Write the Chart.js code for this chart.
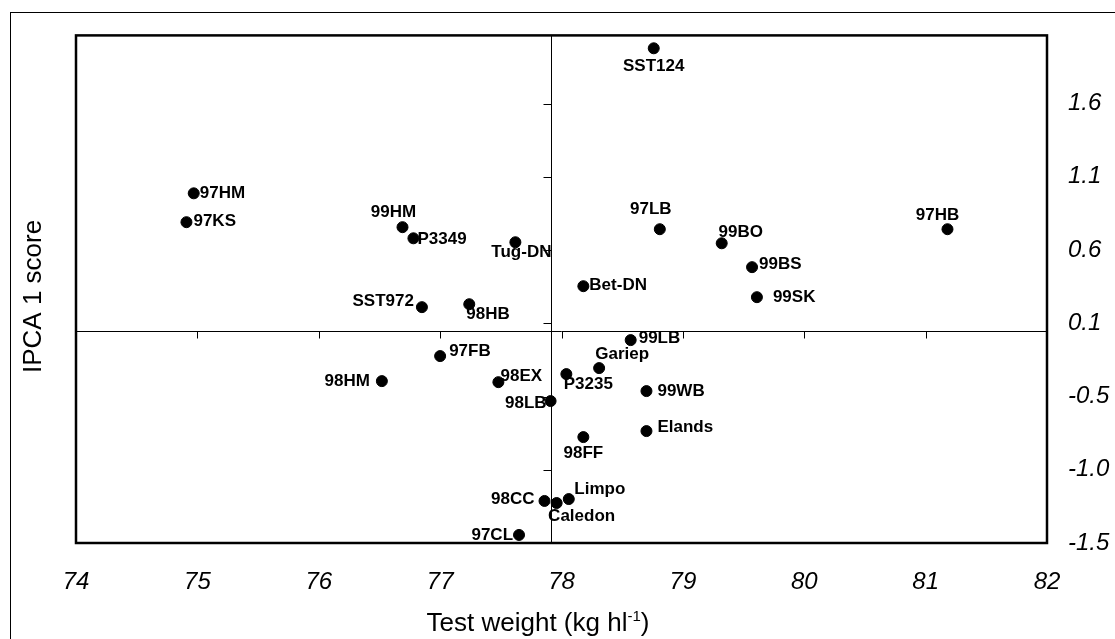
<!DOCTYPE html>
<html>
<head>
<meta charset="utf-8">
<script src="https://cdn.jsdelivr.net/npm/chart.js@4"></script>
<style>
html,body{margin:0;padding:0;background:#fff;}
</style>
</head>
<body>
<canvas id="chart" width="1115" height="639"></canvas>
<script>
// cultivar / site codes
const names = [
"SST124","97HM","97KS","99HM","P3349","Tug-DN","SST972","98HB",
"97LB","99BO","99BS","99SK","97HB","Bet-DN","99LB","97FB",
"Gariep","P3235","98EX","98HM","99WB","98LB","Elands","98FF",
"98CC","Caledon","Limpo","97CL"
];

// test weight (kg hl-1)
const testWeight = [
78.76,74.97,74.91,76.69,76.78,77.62,76.85,77.24,
78.81,79.32,79.57,79.61,81.18,78.18,78.57,77.00,
78.31,78.04,77.48,76.52,78.70,77.91,78.70,78.18,
77.86,77.96,78.06,77.65
];

// IPCA 1 score
const ipcaScore = [
1.977,0.987,0.790,0.756,0.680,0.653,0.210,0.230,
0.742,0.646,0.483,0.278,0.742,0.353,-0.015,-0.124,
-0.206,-0.247,-0.302,-0.295,-0.363,-0.431,-0.636,-0.677,
-1.113,-1.127,-1.100,-1.345
];

const xTicks = [74,75,76,77,78,79,80,81,82];
const yTickLabels = ["-1.5","-1.0","-0.5","0.1","0.6","1.1","1.6"];

// reference lines (means)
const meanWeight = 77.91;
const meanScore = 0.05;

// where each label sits relative to its dot: [align, dx, dy]
const labelAt = {
"SST124":["center",0,18], "97HM":["left",6,0], "97KS":["left",7,-1],
"99HM":["center",-9,-15], "P3349":["left",4,1], "Tug-DN":["center",6,10],
"SST972":["right",-8,-6], "98HB":["left",-3,10], "97LB":["center",-9,-20],
"99BO":["center",19,-11], "99BS":["left",7,-3], "99SK":["left",16,0],
"97HB":["center",-10,-14], "Bet-DN":["left",6,-1], "99LB":["left",8,-2],
"97FB":["left",9,-5], "Gariep":["center",23,-14], "P3235":["center",22,10],
"98EX":["center",23,-6], "98HM":["right",-12,0], "99WB":["left",11,0],
"98LB":["right",-4,2], "Elands":["left",11,-4], "98FF":["center",0,16],
"98CC":["right",-10,-2], "Caledon":["center",25,13], "Limpo":["center",31,-10],
"97CL":["right",-6,0]
};

const FONT = "'Liberation Sans', Arial, sans-serif";
const yFirst = -1.4;

const overlay = {
  id:"overlay",
  beforeDatasetsDraw(chart){
    const {ctx, chartArea:a, scales:{x,y}} = chart;
    ctx.save();
    ctx.strokeStyle = "#000";
    // outer frame
    ctx.lineWidth = 1;
    ctx.strokeRect(10.5,12.5,1300,800);
    // plot frame
    ctx.lineWidth = 2.5;
    ctx.strokeRect(a.left,a.top,a.width,a.height);
    // reference lines through the means
    const vx = Math.round(x.getPixelForValue(meanWeight))+0.5;
    const hy = Math.round(y.getPixelForValue(meanScore))+0.5;
    ctx.lineWidth = 1;
    ctx.beginPath();
    ctx.moveTo(vx,a.top); ctx.lineTo(vx,a.bottom);
    ctx.moveTo(a.left,hy); ctx.lineTo(a.right,hy);
    x.ticks.forEach(t=>{
      const px = Math.round(x.getPixelForValue(t.value))+0.5;
      if(px>a.left+2 && px<a.right-2){ ctx.moveTo(px,hy); ctx.lineTo(px,hy+7); }
    });
    y.ticks.forEach(t=>{
      const py = Math.round(y.getPixelForValue(t.value))+0.5;
      if(py>a.top+2 && py<a.bottom-2){ ctx.moveTo(vx,py); ctx.lineTo(vx-8,py); }
    });
    ctx.stroke();
    ctx.restore();
  },
  afterDatasetsDraw(chart){
    const {ctx, scales:{x,y}} = chart;
    ctx.save();
    ctx.fillStyle = "#000";
    ctx.font = "bold 17px " + FONT;
    ctx.textBaseline = "middle";
    names.forEach((n,i)=>{
      const p = labelAt[n];
      const px = x.getPixelForValue(testWeight[i]);
      const py = y.getPixelForValue(ipcaScore[i]);
      ctx.textAlign = p[0];
      ctx.fillText(n, px+p[1], py+p[2]);
    });

    // x axis title, with the superscript unit
    const main = "Test weight (kg hl", sup = "-1", close = ")";
    ctx.textAlign = "left";
    ctx.textBaseline = "alphabetic";
    ctx.font = "26px " + FONT;
    const w1 = ctx.measureText(main).width, w3 = ctx.measureText(close).width;
    ctx.font = "15px " + FONT;
    const w2 = ctx.measureText(sup).width;
    let tx = 538 - (w1+w2+w3)/2;
    const base = 631;
    ctx.font = "26px " + FONT;
    ctx.fillText(main, tx, base); tx += w1;
    ctx.font = "15px " + FONT;
    ctx.fillText(sup, tx, base-10); tx += w2;
    ctx.font = "26px " + FONT;
    ctx.fillText(close, tx, base);
    ctx.restore();
  }
};

new Chart(document.getElementById("chart"),{
  type:"scatter",
  data:{
    datasets:[{
      label:"IPCA 1",
      data:testWeight.map((v,i)=>({x:v,y:ipcaScore[i]})),
      backgroundColor:"#000",
      borderColor:"#000",
      pointRadius:5.5,
      pointHoverRadius:5.5
    }]
  },
  options:{
    responsive:false,
    animation:false,
    layout:{padding:{left:0,top:35,right:0,bottom:0}},
    plugins:{legend:{display:false},tooltip:{enabled:false}},
    scales:{
      x:{
        type:"linear", position:"bottom", min:74, max:82,
        afterBuildTicks:s=>{ s.ticks = xTicks.map(v=>({value:v})); },
        grid:{display:false,drawTicks:false}, border:{display:false},
        ticks:{color:"#000",padding:25,maxRotation:0,font:{family:FONT,size:24,style:"italic"}},
        afterFit:s=>{ s.height = 96; }
      },
      y:{
        type:"linear", position:"right", min:yFirst, max:2.065,
        afterBuildTicks:s=>{ s.ticks = yTickLabels.map((t,i)=>({value:yFirst+i*0.5})); },
        grid:{display:false,drawTicks:false}, border:{display:false},
        ticks:{color:"#000",padding:21,callback:(v,i)=>yTickLabels[i],
               font:{family:FONT,size:24,style:"italic"}},
        afterFit:s=>{ s.width = 68; }
      },
      yTitle:{
        type:"linear", position:"left", display:true,
        grid:{display:false,drawTicks:false}, border:{display:false},
        ticks:{display:false},
        title:{display:true,text:"IPCA 1 score  ",color:"#000",
               font:{family:FONT,size:26},padding:{top:18,bottom:0}},
        afterFit:s=>{ s.width = 76; }
      }
    }
  },
  plugins:[overlay]
});
</script>
</body>
</html>
